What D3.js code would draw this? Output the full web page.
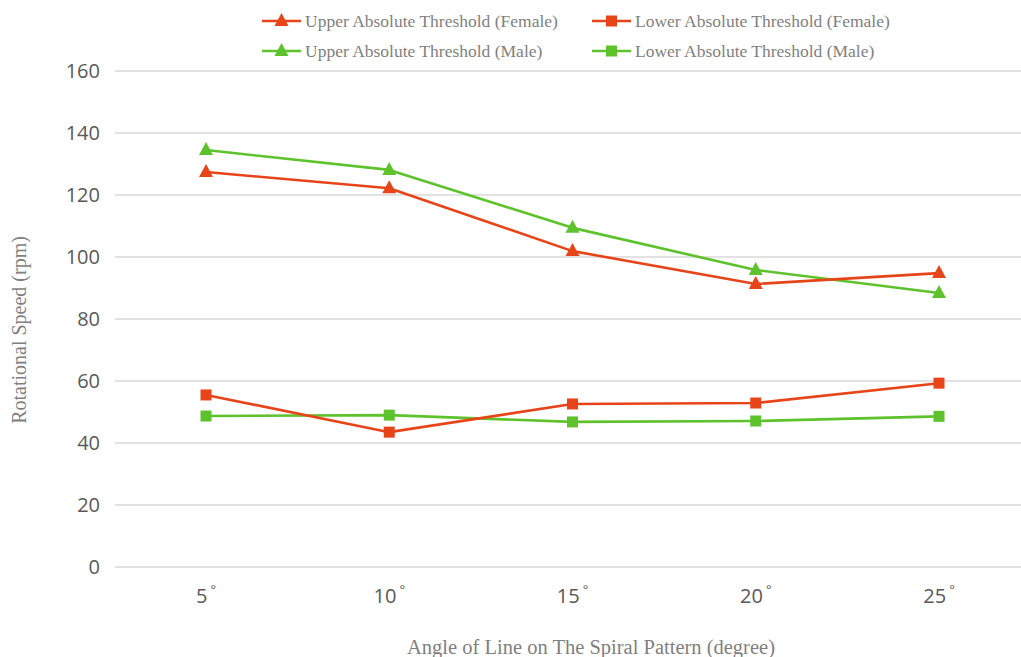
<!DOCTYPE html>
<html>
<head>
<meta charset="utf-8">
<script src="https://cdn.jsdelivr.net/npm/d3@7"></script>
<style>
  html, body { margin: 0; padding: 0; background: #fff; }
  svg { display: block; }
</style>
</head>
<body>
<svg id="chart" width="1021" height="657"></svg>
<script>
const categories = ["5", "10", "15", "20", "25"];
const yTicks = [0, 20, 40, 60, 80, 100, 120, 140, 160];

const upperFemale = [127.4, 122.2, 101.9, 91.3, 94.8];
const lowerFemale = [55.5, 43.5, 52.6, 52.9, 59.3];
const upperMale   = [134.5, 128.1, 109.4, 95.8, 88.4];
const lowerMale   = [48.7, 49.0, 46.8, 47.1, 48.6];

const seriesNames = [
  "Upper Absolute Threshold (Female)",
  "Lower Absolute Threshold (Female)",
  "Upper Absolute Threshold (Male)",
  "Lower Absolute Threshold (Male)"
];

const RED = "#e8441a", GREEN = "#5ec22d";
const series = [
  { name: seriesNames[0], values: upperFemale, color: RED, shape: "tri" },
  { name: seriesNames[1], values: lowerFemale, color: RED, shape: "sq" },
  { name: seriesNames[2], values: upperMale, color: GREEN, shape: "tri" },
  { name: seriesNames[3], values: lowerMale, color: GREEN, shape: "sq" }
];

const svg = d3.select("#chart");
const x = d3.scalePoint().domain(categories).range([206, 939]);
const y = d3.scaleLinear().domain([0, 160]).range([567, 71]);

// gridlines
svg.append("g").selectAll("line").data(yTicks).join("line")
  .attr("x1", 115).attr("x2", 1021)
  .attr("y1", d => y(d)).attr("y2", d => y(d))
  .attr("stroke", "#d9d9d9").attr("stroke-width", 1.5);

// y tick labels
svg.append("g").selectAll("text").data(yTicks).join("text")
  .attr("x", 100).attr("y", d => y(d)).attr("dy", "0.35em")
  .attr("text-anchor", "end")
  .attr("font-family", "'Open Sans', 'Liberation Sans', sans-serif")
  .attr("font-size", 20).attr("fill", "#595959")
  .text(d => d);

// x tick labels
const xt = svg.append("g").selectAll("text").data(categories).join("text")
  .attr("x", d => x(d)).attr("y", 603)
  .attr("text-anchor", "middle")
  .attr("font-family", "'Open Sans', 'Liberation Sans', sans-serif")
  .attr("font-size", 20).attr("fill", "#595959");
xt.append("tspan").text(d => d);
xt.append("tspan").attr("font-size", 13).attr("dy", -9).attr("dx", 3).text("°");

// axis titles
svg.append("text")
  .attr("x", 591).attr("y", 654).attr("text-anchor", "middle")
  .attr("font-family", "'Liberation Serif', serif")
  .attr("font-size", 20.5).attr("fill", "#7f7f7f")
  .text("Angle of Line on The Spiral Pattern (degree)");
svg.append("text")
  .attr("transform", "translate(26,330) rotate(-90)").attr("text-anchor", "middle")
  .attr("font-family", "'Liberation Serif', serif")
  .attr("font-size", 20).attr("fill", "#7f7f7f")
  .text("Rotational Speed (rpm)");

function marker(g, shape, color, cx, cy) {
  if (shape === "tri") {
    g.append("path")
      .attr("d", `M${cx},${cy - 8}L${cx + 7},${cy + 5}L${cx - 7},${cy + 5}Z`)
      .attr("fill", color);
  } else {
    g.append("rect").attr("x", cx - 5.5).attr("y", cy - 5.5)
      .attr("width", 11).attr("height", 11).attr("fill", color);
  }
}

const line = d3.line().x((d, i) => x(categories[i])).y(d => y(d));
const drawOrder = [2, 3, 0, 1];
drawOrder.forEach(k => {
  const s = series[k];
  const g = svg.append("g");
  g.append("path").datum(s.values).attr("d", line)
    .attr("fill", "none").attr("stroke", s.color).attr("stroke-width", 2.6)
    .attr("stroke-linejoin", "round");
  s.values.forEach((v, i) => marker(g, s.shape, s.color, x(categories[i]), y(v)));
});

// legend
const legPos = [[262, 21], [592, 21], [262, 51], [592, 51]];
series.forEach((s, k) => {
  const [lx, ly] = legPos[k];
  const g = svg.append("g");
  g.append("line").attr("x1", lx).attr("x2", lx + 39).attr("y1", ly).attr("y2", ly)
    .attr("stroke", s.color).attr("stroke-width", 2.6);
  marker(g, s.shape, s.color, lx + 19.5, ly);
  g.append("text").attr("x", lx + 43).attr("y", ly).attr("dy", "0.35em")
    .attr("font-family", "'Liberation Serif', serif")
    .attr("font-size", 17.5).attr("fill", "#7f7f7f")
    .text(s.name);
});
</script>
</body>
</html>
